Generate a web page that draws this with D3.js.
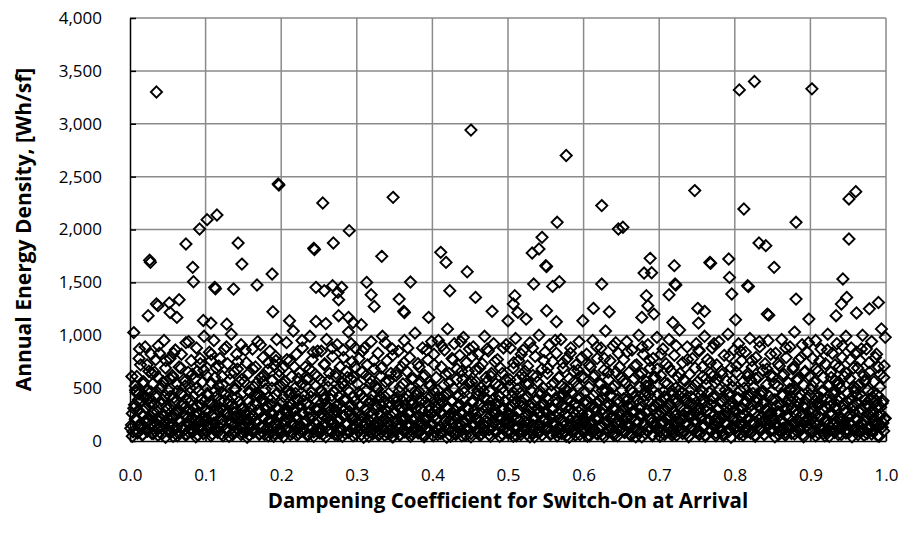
<!DOCTYPE html>
<html>
<head>
<meta charset="utf-8">
<script src="https://cdn.jsdelivr.net/npm/d3@7"></script>
<style>
  html, body { margin: 0; padding: 0; background: #fff; }
  svg { display: block; }
  text { font-family: "Open Sans", Lato, sans-serif; fill: #000; }
</style>
</head>
<body>
<svg id="chart" width="906" height="533"></svg>
<script>
// Annual energy density vs. dampening coefficient, one diamond per simulation run.
const xTicks = [0, 0.1, 0.2, 0.3, 0.4, 0.5, 0.6, 0.7, 0.8, 0.9, 1.0];
const yTicks = [0, 500, 1000, 1500, 2000, 2500, 3000, 3500, 4000];
const xTitle = "Dampening Coefficient for Switch-On at Arrival";
const yTitle = "Annual Energy Density, [Wh/sf]";

// Runs with high energy density (above ~1,100 Wh/sf)
const highRuns = [[0.035,3300],[0.451,2940],[0.577,2700],[0.806,3320],[0.826,3400],[0.902,3330],
[0.026,1710],[0.027,1690],[0.035,1295],[0.037,1280],[0.052,1305],[0.065,1336],[0.024,1185],[0.053,1215],[0.062,1169],[0.074,1863],[0.083,1642],[0.084,1506],[0.092,2005],[0.102,2093],[0.115,2137],[0.112,1453],[0.113,1440],[0.137,1437],[0.143,1872],[0.148,1673],[0.168,1475],[0.188,1579],[0.189,1222],[0.196,2431],[0.197,2420],[0.211,1137],[0.243,1822],[0.244,1810],[0.246,1453],[0.255,2251],[0.257,1421],[0.269,1872],[0.268,1469],[0.275,1405],[0.276,1336],[0.280,1453],[0.290,1989],[0.276,1185],[0.289,1169],[0.313,1500],[0.319,1383],[0.323,1273],[0.333,1746],[0.348,2304],[0.356,1342],[0.362,1226],[0.363,1215],[0.371,1503],[0.395,1169],[0.411,1784],[0.418,1689],[0.423,1421],[0.446,1600],[0.457,1358],[0.246,1130],[0.259,1110],[0.306,1100],[0.097,1140],[0.107,1115],[0.128,1105],[0.295,1120],
[0.479,1226],[0.509,1374],[0.507,1295],[0.513,1216],[0.524,1153],[0.500,1137],[0.534,1484],[0.532,1778],[0.541,1816],[0.545,1926],[0.550,1658],[0.551,1650],[0.565,2068],[0.559,1462],[0.568,1506],[0.551,1232],[0.564,1128],[0.599,1137],[0.613,1254],[0.634,1222],[0.624,1484],[0.624,2226],[0.646,2005],[0.652,2021],[0.680,1588],[0.688,1727],[0.690,1591],[0.683,1374],[0.685,1279],[0.693,1200],[0.677,1169],[0.720,1658],[0.721,1484],[0.722,1475],[0.713,1383],[0.718,1120],[0.747,2368],[0.751,1254],[0.760,1226],[0.752,1115],[0.767,1689],[0.768,1680],[0.792,1721],[0.793,1547],[0.796,1390],[0.817,1469],[0.818,1460],[0.801,1147],[0.812,2194],[0.832,1872],[0.841,1847],[0.852,1642],[0.843,1200],[0.845,1190],[0.881,2068],[0.881,1342],[0.898,1153],[0.951,2289],[0.960,2358],[0.951,1910],[0.943,1532],[0.948,1358],[0.941,1295],[0.961,1210],[0.934,1185],[0.978,1250],[0.990,1310]];

// Bulk of the runs, grouped by coefficient range
const runs00 = [[0.002,152],[0.004,88],[0.005,1025],[0.006,342],[0.007,520],[0.008,215],[0.009,610],[0.010,75],[0.011,290],[0.012,445],[0.013,160],[0.014,720],[0.015,385],[0.016,58],[0.017,240],[0.018,560],[0.019,130],[0.020,890],[0.021,310],[0.022,475],[0.023,95],[0.024,205],[0.025,660],[0.026,405],[0.027,150],[0.028,820],[0.029,265],[0.030,540],[0.031,70],[0.032,350],[0.033,180],[0.034,770],[0.035,440],[0.036,112],[0.037,605],[0.038,225],[0.039,830],[0.040,140],[0.041,500],[0.042,65],[0.043,390],[0.044,250],[0.045,950],[0.046,170],[0.047,690],[0.048,330],[0.049,105],[0.003,260],[0.019,410],[0.027,355],[0.033,95],[0.041,210],[0.008,460],[0.014,120],[0.022,185],[0.036,280],[0.044,560],[0.012,780],[0.029,640],[0.047,430]];
const runs05 = [[0.050,210],[0.051,480],[0.052,95],[0.053,780],[0.054,330],[0.055,160],[0.056,620],[0.057,45],[0.058,410],[0.059,255],[0.060,860],[0.061,120],[0.062,540],[0.063,300],[0.064,75],[0.065,700],[0.066,190],[0.067,450],[0.068,820],[0.069,135],[0.070,360],[0.071,580],[0.072,240],[0.073,60],[0.074,930],[0.075,395],[0.076,170],[0.077,650],[0.078,285],[0.079,110],[0.080,500],[0.081,760],[0.082,220],[0.083,85],[0.084,425],[0.085,315],[0.086,590],[0.087,145],[0.088,880],[0.089,260],[0.090,55],[0.091,470],[0.092,195],[0.093,730],[0.094,340],[0.095,100],[0.096,560],[0.097,230],[0.098,990],[0.099,380],[0.053,140],[0.061,270],[0.069,330],[0.077,90],[0.085,200],[0.093,150],[0.057,600],[0.073,520],[0.089,660],[0.097,70]];
const runs10 = [[0.100,180],[0.101,620],[0.102,90],[0.103,430],[0.104,270],[0.105,840],[0.106,140],[0.107,360],[0.108,545],[0.109,65],[0.110,235],[0.111,950],[0.112,470],[0.113,125],[0.114,690],[0.115,300],[0.116,80],[0.117,520],[0.118,205],[0.119,780],[0.120,385],[0.121,155],[0.122,610],[0.123,50],[0.124,290],[0.125,870],[0.126,440],[0.127,115],[0.128,250],[0.129,730],[0.130,350],[0.131,95],[0.132,580],[0.133,190],[0.134,1010],[0.135,415],[0.136,60],[0.137,270],[0.138,650],[0.139,160],[0.140,490],[0.141,820],[0.142,225],[0.143,105],[0.144,370],[0.145,560],[0.146,140],[0.147,910],[0.148,310],[0.149,75],[0.103,150],[0.112,330],[0.121,460],[0.128,110],[0.135,230],[0.142,680],[0.107,760],[0.117,280],[0.131,380],[0.146,250]];
const runs15 = [[0.150,130],[0.151,560],[0.152,280],[0.153,85],[0.154,740],[0.155,390],[0.156,200],[0.157,640],[0.158,55],[0.159,460],[0.160,320],[0.161,150],[0.162,870],[0.163,240],[0.164,510],[0.165,100],[0.166,700],[0.167,350],[0.168,180],[0.169,940],[0.170,430],[0.171,70],[0.172,270],[0.173,600],[0.174,140],[0.175,380],[0.176,790],[0.177,215],[0.178,60],[0.179,490],[0.180,300],[0.181,120],[0.182,670],[0.183,410],[0.184,190],[0.185,850],[0.186,90],[0.187,340],[0.188,570],[0.189,250],[0.190,45],[0.191,720],[0.192,165],[0.193,440],[0.194,960],[0.195,310],[0.196,110],[0.197,620],[0.198,230],[0.199,525],[0.154,175],[0.163,95],[0.172,420],[0.181,330],[0.188,140],[0.197,80],[0.159,260],[0.176,560],[0.185,205],[0.193,760]];
const runs20 = [[0.200,240],[0.201,80],[0.202,690],[0.203,420],[0.204,150],[0.205,560],[0.206,310],[0.207,930],[0.208,100],[0.209,470],[0.210,205],[0.211,760],[0.212,60],[0.213,350],[0.214,610],[0.215,170],[0.216,1040],[0.217,280],[0.218,500],[0.219,125],[0.220,820],[0.221,390],[0.222,220],[0.223,70],[0.224,650],[0.225,330],[0.226,145],[0.227,540],[0.228,880],[0.229,260],[0.230,95],[0.231,430],[0.232,700],[0.233,185],[0.234,360],[0.235,50],[0.236,590],[0.237,270],[0.238,990],[0.239,140],[0.240,460],[0.241,770],[0.242,230],[0.243,85],[0.244,400],[0.245,630],[0.246,160],[0.247,300],[0.248,850],[0.249,115],[0.203,190],[0.211,320],[0.219,450],[0.226,90],[0.233,580],[0.241,120],[0.207,260],[0.217,160],[0.229,380],[0.246,520]];
const runs25 = [[0.250,300],[0.251,120],[0.252,580],[0.253,850],[0.254,210],[0.255,60],[0.256,440],[0.257,720],[0.258,160],[0.259,350],[0.260,960],[0.261,95],[0.262,510],[0.263,270],[0.264,640],[0.265,185],[0.266,390],[0.267,80],[0.268,800],[0.269,250],[0.270,470],[0.271,140],[0.272,610],[0.273,330],[0.274,910],[0.275,55],[0.276,420],[0.277,200],[0.278,700],[0.279,310],[0.280,105],[0.281,550],[0.282,860],[0.283,230],[0.284,380],[0.285,70],[0.286,660],[0.287,160],[0.288,480],[0.289,1030],[0.290,280],[0.291,90],[0.292,590],[0.293,340],[0.294,750],[0.295,130],[0.296,420],[0.297,220],[0.298,880],[0.299,65],[0.253,110],[0.261,330],[0.268,180],[0.276,90],[0.283,520],[0.291,250],[0.257,410],[0.271,290],[0.286,150],[0.296,600]];
const runs30 = [[0.300,180],[0.301,540],[0.302,95],[0.303,780],[0.304,330],[0.305,240],[0.306,60],[0.307,650],[0.308,410],[0.309,150],[0.310,880],[0.311,300],[0.312,110],[0.313,480],[0.314,720],[0.315,200],[0.316,45],[0.317,590],[0.318,360],[0.319,940],[0.320,130],[0.321,430],[0.322,260],[0.323,680],[0.324,85],[0.325,520],[0.326,310],[0.327,170],[0.328,830],[0.329,400],[0.330,70],[0.331,250],[0.332,610],[0.333,140],[0.334,990],[0.335,370],[0.336,210],[0.337,55],[0.338,560],[0.339,290],[0.340,760],[0.341,120],[0.342,450],[0.343,320],[0.344,100],[0.345,640],[0.346,230],[0.347,870],[0.348,40],[0.349,390],[0.304,120],[0.312,380],[0.319,90],[0.326,500],[0.333,330],[0.341,180],[0.308,230],[0.322,150],[0.337,420],[0.346,80]];
const runs35 = [[0.350,260],[0.351,90],[0.352,620],[0.353,380],[0.354,150],[0.355,850],[0.356,470],[0.357,55],[0.358,300],[0.359,700],[0.360,190],[0.361,540],[0.362,110],[0.363,950],[0.364,340],[0.365,220],[0.366,660],[0.367,75],[0.368,430],[0.369,270],[0.370,790],[0.371,140],[0.372,500],[0.373,60],[0.374,360],[0.375,590],[0.376,200],[0.377,1020],[0.378,310],[0.379,120],[0.380,450],[0.381,730],[0.382,240],[0.383,85],[0.384,560],[0.385,390],[0.386,160],[0.387,880],[0.388,280],[0.389,40],[0.390,620],[0.391,210],[0.392,410],[0.393,130],[0.394,770],[0.395,330],[0.396,95],[0.397,520],[0.398,250],[0.399,940],[0.354,340],[0.361,230],[0.368,130],[0.374,90],[0.382,470],[0.389,200],[0.358,150],[0.371,380],[0.386,60],[0.396,290]];
const runs40 = [[0.400,150],[0.401,480],[0.402,820],[0.403,90],[0.404,330],[0.405,600],[0.406,210],[0.407,60],[0.408,950],[0.409,410],[0.410,270],[0.411,130],[0.412,700],[0.413,360],[0.414,80],[0.415,530],[0.416,860],[0.417,190],[0.418,440],[0.419,310],[0.420,1060],[0.421,110],[0.422,640],[0.423,250],[0.424,45],[0.425,380],[0.426,780],[0.427,170],[0.428,500],[0.429,920],[0.430,290],[0.431,70],[0.432,580],[0.433,230],[0.434,420],[0.435,140],[0.436,810],[0.437,340],[0.438,95],[0.439,660],[0.440,260],[0.441,980],[0.442,460],[0.443,180],[0.444,55],[0.445,740],[0.446,320],[0.447,120],[0.448,550],[0.449,870],[0.403,240],[0.411,390],[0.418,120],[0.425,210],[0.433,90],[0.440,580],[0.407,300],[0.421,450],[0.436,160],[0.446,200]];
const runs45 = [[0.450,230],[0.451,70],[0.452,560],[0.453,380],[0.454,890],[0.455,140],[0.456,300],[0.457,670],[0.458,95],[0.459,450],[0.460,200],[0.461,820],[0.462,340],[0.463,55],[0.464,510],[0.465,260],[0.466,730],[0.467,160],[0.468,410],[0.469,990],[0.470,100],[0.471,600],[0.472,320],[0.473,180],[0.474,850],[0.475,60],[0.476,470],[0.477,240],[0.478,640],[0.479,130],[0.480,390],[0.481,920],[0.482,280],[0.483,85],[0.484,540],[0.485,350],[0.486,770],[0.487,150],[0.488,430],[0.489,45],[0.490,690],[0.491,220],[0.492,500],[0.493,310],[0.494,880],[0.495,120],[0.496,370],[0.497,580],[0.498,200],[0.499,80],[0.453,150],[0.460,480],[0.468,90],[0.476,330],[0.483,250],[0.491,140],[0.457,210],[0.472,560],[0.487,380],[0.496,170]];
const runs50 = [[0.500,160],[0.501,520],[0.502,300],[0.503,880],[0.504,75],[0.505,420],[0.506,230],[0.507,690],[0.508,120],[0.509,360],[0.510,970],[0.511,50],[0.512,580],[0.513,270],[0.514,760],[0.515,190],[0.516,450],[0.517,90],[0.518,630],[0.519,330],[0.520,860],[0.521,140],[0.522,400],[0.523,240],[0.524,540],[0.525,65],[0.526,710],[0.527,290],[0.528,170],[0.529,930],[0.530,480],[0.531,100],[0.532,350],[0.533,620],[0.534,210],[0.535,40],[0.536,800],[0.537,390],[0.538,150],[0.539,560],[0.540,260],[0.541,1000],[0.542,85],[0.543,440],[0.544,320],[0.545,680],[0.546,130],[0.547,500],[0.548,210],[0.549,840],[0.503,250],[0.510,140],[0.517,380],[0.524,180],[0.532,80],[0.539,310],[0.507,460],[0.521,600],[0.536,220],[0.546,360]];
const runs55 = [[0.550,280],[0.551,110],[0.552,640],[0.553,390],[0.554,190],[0.555,910],[0.556,60],[0.557,470],[0.558,300],[0.559,750],[0.560,150],[0.561,550],[0.562,240],[0.563,85],[0.564,830],[0.565,360],[0.566,120],[0.567,600],[0.568,420],[0.569,210],[0.570,960],[0.571,70],[0.572,330],[0.573,690],[0.574,170],[0.575,500],[0.576,260],[0.577,45],[0.578,780],[0.579,400],[0.580,130],[0.581,590],[0.582,310],[0.583,880],[0.584,95],[0.585,450],[0.586,220],[0.587,660],[0.588,340],[0.589,55],[0.590,720],[0.591,180],[0.592,520],[0.593,280],[0.594,940],[0.595,140],[0.596,410],[0.597,610],[0.598,250],[0.599,100],[0.553,130],[0.560,300],[0.567,80],[0.574,440],[0.582,190],[0.589,350],[0.557,230],[0.571,520],[0.586,100],[0.596,180]];
const runs60 = [[0.600,200],[0.601,600],[0.602,90],[0.603,380],[0.604,820],[0.605,260],[0.606,140],[0.607,510],[0.608,50],[0.609,700],[0.610,330],[0.611,180],[0.612,950],[0.613,430],[0.614,110],[0.615,620],[0.616,290],[0.617,70],[0.618,780],[0.619,360],[0.620,210],[0.621,540],[0.622,130],[0.623,880],[0.624,410],[0.625,60],[0.626,300],[0.627,670],[0.628,160],[0.629,1040],[0.630,470],[0.631,240],[0.632,90],[0.633,580],[0.634,340],[0.635,760],[0.636,120],[0.637,430],[0.638,220],[0.639,900],[0.640,55],[0.641,520],[0.642,310],[0.643,650],[0.644,170],[0.645,390],[0.646,830],[0.647,100],[0.648,270],[0.649,600],[0.603,150],[0.610,90],[0.618,230],[0.625,480],[0.633,190],[0.640,320],[0.607,270],[0.621,380],[0.637,130],[0.646,200]];
const runs65 = [[0.650,170],[0.651,480],[0.652,300],[0.653,770],[0.654,80],[0.655,550],[0.656,230],[0.657,940],[0.658,140],[0.659,400],[0.660,650],[0.661,60],[0.662,350],[0.663,210],[0.664,860],[0.665,460],[0.666,120],[0.667,590],[0.668,280],[0.669,40],[0.670,720],[0.671,380],[0.672,180],[0.673,1000],[0.674,510],[0.675,90],[0.676,320],[0.677,640],[0.678,240],[0.679,820],[0.680,150],[0.681,430],[0.682,70],[0.683,560],[0.684,290],[0.685,910],[0.686,130],[0.687,370],[0.688,690],[0.689,210],[0.690,490],[0.691,50],[0.692,780],[0.693,330],[0.694,160],[0.695,600],[0.696,260],[0.697,980],[0.698,100],[0.699,440],[0.653,200],[0.660,320],[0.668,110],[0.675,250],[0.682,470],[0.690,170],[0.657,380],[0.671,90],[0.686,520],[0.696,140]];
const runs70 = [[0.700,250],[0.701,90],[0.702,620],[0.703,380],[0.704,160],[0.705,870],[0.706,470],[0.707,60],[0.708,300],[0.709,730],[0.710,200],[0.711,540],[0.712,120],[0.713,960],[0.714,350],[0.715,230],[0.716,660],[0.717,80],[0.718,440],[0.719,280],[0.720,810],[0.721,140],[0.722,500],[0.723,55],[0.724,370],[0.725,600],[0.726,190],[0.727,1050],[0.728,320],[0.729,110],[0.730,460],[0.731,740],[0.732,250],[0.733,90],[0.734,570],[0.735,400],[0.736,170],[0.737,890],[0.738,290],[0.739,45],[0.740,630],[0.741,220],[0.742,420],[0.743,130],[0.744,780],[0.745,340],[0.746,100],[0.747,530],[0.748,260],[0.749,920],[0.703,170],[0.711,310],[0.718,110],[0.726,480],[0.733,220],[0.741,360],[0.707,420],[0.721,240],[0.736,70],[0.746,190]];
const runs75 = [[0.750,180],[0.751,560],[0.752,310],[0.753,850],[0.754,70],[0.755,430],[0.756,240],[0.757,700],[0.758,130],[0.759,380],[0.760,990],[0.761,55],[0.762,590],[0.763,280],[0.764,770],[0.765,200],[0.766,460],[0.767,100],[0.768,640],[0.769,340],[0.770,880],[0.771,150],[0.772,410],[0.773,250],[0.774,550],[0.775,75],[0.776,720],[0.777,300],[0.778,180],[0.779,940],[0.780,490],[0.781,110],[0.782,360],[0.783,630],[0.784,220],[0.785,50],[0.786,810],[0.787,400],[0.788,160],[0.789,570],[0.790,270],[0.791,1010],[0.792,90],[0.793,450],[0.794,330],[0.795,690],[0.796,140],[0.797,510],[0.798,220],[0.799,860],[0.753,260],[0.760,150],[0.767,390],[0.774,190],[0.782,85],[0.789,320],[0.757,470],[0.771,610],[0.786,230],[0.796,370]];
const runs80 = [[0.800,290],[0.801,120],[0.802,650],[0.803,400],[0.804,200],[0.805,920],[0.806,65],[0.807,480],[0.808,310],[0.809,760],[0.810,160],[0.811,560],[0.812,250],[0.813,90],[0.814,840],[0.815,370],[0.816,130],[0.817,610],[0.818,430],[0.819,220],[0.820,970],[0.821,80],[0.822,340],[0.823,700],[0.824,180],[0.825,510],[0.826,270],[0.827,55],[0.828,790],[0.829,410],[0.830,140],[0.831,600],[0.832,320],[0.833,890],[0.834,100],[0.835,460],[0.836,230],[0.837,670],[0.838,350],[0.839,60],[0.840,730],[0.841,190],[0.842,530],[0.843,290],[0.844,950],[0.845,150],[0.846,420],[0.847,620],[0.848,260],[0.849,110],[0.803,140],[0.810,310],[0.817,90],[0.824,450],[0.832,200],[0.839,370],[0.807,240],[0.821,580],[0.836,110],[0.846,190]];
const runs85 = [[0.850,210],[0.851,610],[0.852,100],[0.853,390],[0.854,830],[0.855,270],[0.856,150],[0.857,520],[0.858,60],[0.859,710],[0.860,340],[0.861,190],[0.862,960],[0.863,440],[0.864,120],[0.865,630],[0.866,300],[0.867,80],[0.868,790],[0.869,370],[0.870,220],[0.871,550],[0.872,140],[0.873,890],[0.874,420],[0.875,70],[0.876,310],[0.877,680],[0.878,170],[0.879,1030],[0.880,480],[0.881,250],[0.882,95],[0.883,590],[0.884,350],[0.885,770],[0.886,130],[0.887,440],[0.888,230],[0.889,910],[0.890,60],[0.891,530],[0.892,320],[0.893,660],[0.894,180],[0.895,400],[0.896,840],[0.897,110],[0.898,280],[0.899,610],[0.853,160],[0.860,100],[0.868,240],[0.875,490],[0.883,200],[0.890,330],[0.857,280],[0.871,390],[0.887,140],[0.896,210]];
const runs90 = [[0.900,160],[0.901,490],[0.902,310],[0.903,780],[0.904,90],[0.905,560],[0.906,240],[0.907,950],[0.908,150],[0.909,410],[0.910,660],[0.911,70],[0.912,360],[0.913,220],[0.914,870],[0.915,470],[0.916,130],[0.917,600],[0.918,290],[0.919,50],[0.920,730],[0.921,390],[0.922,190],[0.923,1010],[0.924,520],[0.925,100],[0.926,330],[0.927,650],[0.928,250],[0.929,830],[0.930,160],[0.931,440],[0.932,80],[0.933,570],[0.934,300],[0.935,920],[0.936,140],[0.937,380],[0.938,700],[0.939,220],[0.940,500],[0.941,60],[0.942,790],[0.943,340],[0.944,170],[0.945,610],[0.946,270],[0.947,990],[0.948,110],[0.949,450],[0.903,210],[0.910,330],[0.918,120],[0.925,260],[0.932,480],[0.940,180],[0.907,380],[0.921,90],[0.936,530],[0.946,150]];
const runs95 = [[0.950,230],[0.951,80],[0.952,590],[0.953,400],[0.954,880],[0.955,150],[0.956,320],[0.957,690],[0.958,100],[0.959,470],[0.960,210],[0.961,840],[0.962,350],[0.963,60],[0.964,530],[0.965,270],[0.966,760],[0.967,170],[0.968,420],[0.969,1000],[0.970,110],[0.971,620],[0.972,330],[0.973,190],[0.974,870],[0.975,70],[0.976,480],[0.977,250],[0.978,650],[0.979,140],[0.980,400],[0.981,940],[0.982,290],[0.983,90],[0.984,560],[0.985,360],[0.986,790],[0.987,160],[0.988,440],[0.989,50],[0.990,700],[0.991,230],[0.992,510],[0.993,320],[0.994,1060],[0.995,130],[0.996,380],[0.997,600],[0.998,210],[0.999,980],[0.953,160],[0.960,500],[0.968,100],[0.976,330],[0.983,250],[0.991,140],[0.957,280],[0.972,560],[0.987,380],[0.996,170]];

// Low-energy runs (below ~450 Wh/sf), by quarter of the coefficient range
const lowRunsA = [[0.001,120],[0.003,45],[0.005,310],[0.007,205],[0.009,80],[0.011,390],[0.013,150],[0.015,260],[0.017,60],[0.019,430],[0.021,175],[0.023,95],[0.025,340],[0.027,230],[0.029,70],[0.031,280],[0.033,140],[0.035,410],[0.037,55],[0.039,190],[0.041,350],[0.043,110],[0.045,240],[0.047,35],[0.049,300],[0.051,165],[0.053,420],[0.055,85],[0.057,215],[0.059,370],[0.061,130],[0.063,50],[0.065,275],[0.067,190],[0.069,440],[0.071,100],[0.073,320],[0.075,60],[0.077,225],[0.079,155],[0.081,380],[0.083,90],[0.085,250],[0.087,40],[0.089,330],[0.091,180],[0.093,115],[0.095,400],[0.097,70],[0.099,290],[0.101,210],[0.103,135],[0.105,360],[0.107,50],[0.109,245],[0.111,170],[0.113,95],[0.115,425],[0.117,140],[0.119,310],[0.121,65],[0.123,200],[0.125,380],[0.127,120],[0.129,270],[0.131,45],[0.133,160],[0.135,345],[0.137,85],[0.139,230],[0.141,415],[0.143,105],[0.145,190],[0.147,60],[0.149,300],[0.151,150],[0.153,255],[0.155,35],[0.157,370],[0.159,125],[0.161,210],[0.163,80],[0.165,440],[0.167,175],[0.169,290],[0.171,60],[0.173,135],[0.175,395],[0.177,220],[0.179,100],[0.181,330],[0.183,50],[0.185,265],[0.187,185],[0.189,410],[0.191,70],[0.193,150],[0.195,320],[0.197,240],[0.199,90],[0.201,360],[0.203,40],[0.205,200],[0.207,280],[0.209,115],[0.211,435],[0.213,160],[0.215,75],[0.217,305],[0.219,230],[0.221,55],[0.223,390],[0.225,140],[0.227,260],[0.229,95],[0.231,180],[0.233,350],[0.235,65],[0.237,220],[0.239,420],[0.241,130],[0.243,45],[0.245,300],[0.247,195],[0.249,85]];
const lowRunsB = [[0.251,75],[0.253,260],[0.255,145],[0.257,390],[0.259,40],[0.261,220],[0.263,310],[0.265,100],[0.267,430],[0.269,170],[0.271,60],[0.273,285],[0.275,195],[0.277,350],[0.279,120],[0.281,45],[0.283,240],[0.285,405],[0.287,155],[0.289,80],[0.291,330],[0.293,215],[0.295,50],[0.297,375],[0.299,130],[0.301,270],[0.303,90],[0.305,440],[0.307,180],[0.309,35],[0.311,300],[0.313,160],[0.315,255],[0.317,110],[0.319,385],[0.321,65],[0.323,210],[0.325,340],[0.327,140],[0.329,55],[0.331,420],[0.333,190],[0.335,100],[0.337,295],[0.339,230],[0.341,70],[0.343,365],[0.345,150],[0.347,40],[0.349,275],[0.351,185],[0.353,410],[0.355,120],[0.357,60],[0.359,320],[0.361,205],[0.363,85],[0.365,395],[0.367,160],[0.369,250],[0.371,45],[0.373,340],[0.375,110],[0.377,225],[0.379,430],[0.381,75],[0.383,180],[0.385,300],[0.387,135],[0.389,55],[0.391,370],[0.393,240],[0.395,95],[0.397,415],[0.399,165],[0.401,50],[0.403,285],[0.405,200],[0.407,120],[0.409,350],[0.411,70],[0.413,260],[0.415,425],[0.417,145],[0.419,35],[0.421,310],[0.423,190],[0.425,90],[0.427,380],[0.429,235],[0.431,60],[0.433,330],[0.435,125],[0.437,270],[0.439,50],[0.441,400],[0.443,175],[0.445,100],[0.447,295],[0.449,215],[0.451,40],[0.453,360],[0.455,150],[0.457,250],[0.459,80],[0.461,435],[0.463,185],[0.465,65],[0.467,320],[0.469,140],[0.471,230],[0.473,390],[0.475,105],[0.477,45],[0.479,275],[0.481,170],[0.483,345],[0.485,90],[0.487,210],[0.489,420],[0.491,130],[0.493,60],[0.495,305],[0.497,195],[0.499,255]];
const lowRunsC = [[0.501,95],[0.503,330],[0.505,170],[0.507,45],[0.509,400],[0.511,220],[0.513,130],[0.515,285],[0.517,60],[0.519,360],[0.521,185],[0.523,105],[0.525,425],[0.527,250],[0.529,40],[0.531,310],[0.533,150],[0.535,205],[0.537,380],[0.539,85],[0.541,270],[0.543,140],[0.545,55],[0.547,345],[0.549,195],[0.551,415],[0.553,115],[0.555,235],[0.557,70],[0.559,300],[0.561,160],[0.563,390],[0.565,50],[0.567,260],[0.569,125],[0.571,440],[0.573,190],[0.575,80],[0.577,320],[0.579,230],[0.581,35],[0.583,370],[0.585,145],[0.587,275],[0.589,100],[0.591,410],[0.593,210],[0.595,60],[0.597,295],[0.599,175],[0.601,120],[0.603,350],[0.605,45],[0.607,240],[0.609,405],[0.611,155],[0.613,90],[0.615,315],[0.617,200],[0.619,65],[0.621,385],[0.623,135],[0.625,255],[0.627,40],[0.629,340],[0.631,180],[0.633,110],[0.635,430],[0.637,225],[0.639,75],[0.641,290],[0.643,160],[0.645,50],[0.647,365],[0.649,245],[0.651,130],[0.653,400],[0.655,85],[0.657,210],[0.659,330],[0.661,145],[0.663,55],[0.665,280],[0.667,420],[0.669,190],[0.671,100],[0.673,310],[0.675,235],[0.677,40],[0.679,375],[0.681,165],[0.683,260],[0.685,95],[0.687,440],[0.689,205],[0.691,60],[0.693,300],[0.695,150],[0.697,355],[0.699,115],[0.701,45],[0.703,270],[0.705,190],[0.707,410],[0.709,80],[0.711,230],[0.713,335],[0.715,135],[0.717,55],[0.719,390],[0.721,175],[0.723,250],[0.725,100],[0.727,425],[0.729,200],[0.731,70],[0.733,295],[0.735,155],[0.737,360],[0.739,40],[0.741,240],[0.743,120],[0.745,405],[0.747,185],[0.749,85]];
const lowRunsD = [[0.751,290],[0.753,60],[0.755,210],[0.757,395],[0.759,140],[0.761,45],[0.763,330],[0.765,180],[0.767,260],[0.769,95],[0.771,420],[0.773,155],[0.775,50],[0.777,305],[0.779,225],[0.781,120],[0.783,380],[0.785,70],[0.787,245],[0.789,165],[0.791,440],[0.793,100],[0.795,35],[0.797,320],[0.799,195],[0.801,275],[0.803,85],[0.805,405],[0.807,150],[0.809,230],[0.811,55],[0.813,350],[0.815,125],[0.817,200],[0.819,415],[0.821,75],[0.823,285],[0.825,170],[0.827,45],[0.829,365],[0.831,240],[0.833,110],[0.835,430],[0.837,185],[0.839,60],[0.841,300],[0.843,145],[0.845,255],[0.847,90],[0.849,390],[0.851,205],[0.853,40],[0.855,335],[0.857,130],[0.859,270],[0.861,80],[0.863,425],[0.865,175],[0.867,55],[0.869,310],[0.871,220],[0.873,115],[0.875,375],[0.877,160],[0.879,65],[0.881,290],[0.883,195],[0.885,410],[0.887,100],[0.889,250],[0.891,40],[0.893,345],[0.895,140],[0.897,215],[0.899,435],[0.901,85],[0.903,280],[0.905,170],[0.907,50],[0.909,360],[0.911,235],[0.913,125],[0.915,400],[0.917,70],[0.919,190],[0.921,315],[0.923,150],[0.925,45],[0.927,385],[0.929,260],[0.931,100],[0.933,325],[0.935,180],[0.937,60],[0.939,420],[0.941,210],[0.943,135],[0.945,295],[0.947,75],[0.949,370],[0.951,165],[0.953,245],[0.955,40],[0.957,340],[0.959,120],[0.961,430],[0.963,200],[0.965,90],[0.967,305],[0.969,155],[0.971,55],[0.973,390],[0.975,230],[0.977,110],[0.979,275],[0.981,65],[0.983,410],[0.985,185],[0.987,140],[0.989,320],[0.991,45],[0.993,255],[0.995,360],[0.997,95],[0.999,215]];

// Mid-range runs (roughly 450-950 Wh/sf)
const midRuns = [[0.0025,610],[0.0075,480],[0.0125,870],[0.0175,540],[0.0225,720],[0.0275,465],[0.0325,650],[0.0375,900],[0.0425,520],[0.0475,760],
[0.0525,590],[0.0575,830],[0.0625,470],[0.0675,690],[0.0725,560],[0.0775,940],[0.0825,630],[0.0875,500],[0.0925,780],[0.0975,670],
[0.1025,450],[0.1075,820],[0.1125,600],[0.1175,710],[0.1225,530],[0.1275,890],[0.1325,640],[0.1375,490],[0.1425,750],[0.1475,580],
[0.1525,860],[0.1575,470],[0.1625,680],[0.1675,550],[0.1725,910],[0.1775,620],[0.1825,740],[0.1875,500],[0.1925,800],[0.1975,660],
[0.2025,540],[0.2075,770],[0.2125,460],[0.2175,700],[0.2225,590],[0.2275,950],[0.2325,520],[0.2375,680],[0.2425,840],[0.2475,610],
[0.2525,480],[0.2575,730],[0.2625,570],[0.2675,880],[0.2725,640],[0.2775,510],[0.2825,790],[0.2875,600],[0.2925,920],[0.2975,700],
[0.3025,460],[0.3075,850],[0.3125,620],[0.3175,540],[0.3225,760],[0.3275,490],[0.3325,690],[0.3375,930],[0.3425,570],[0.3475,810],
[0.3525,650],[0.3575,510],[0.3625,740],[0.3675,880],[0.3725,590],[0.3775,470],[0.3825,700],[0.3875,610],[0.3925,860],[0.3975,530],
[0.4025,720],[0.4075,480],[0.4125,900],[0.4175,630],[0.4225,550],[0.4275,770],[0.4325,680],[0.4375,940],[0.4425,500],[0.4475,660],
[0.4525,800],[0.4575,560],[0.4625,690],[0.4675,470],[0.4725,870],[0.4775,610],[0.4825,750],[0.4875,520],[0.4925,640],[0.4975,910],
[0.5025,580],[0.5075,740],[0.5125,490],[0.5175,820],[0.5225,660],[0.5275,540],[0.5325,880],[0.5375,610],[0.5425,470],[0.5475,760],
[0.5525,690],[0.5575,530],[0.5625,950],[0.5675,600],[0.5725,740],[0.5775,480],[0.5825,830],[0.5875,560],[0.5925,670],[0.5975,790],
[0.6025,460],[0.6075,720],[0.6125,610],[0.6175,890],[0.6225,540],[0.6275,780],[0.6325,650],[0.6375,500],[0.6425,930],[0.6475,700],
[0.6525,570],[0.6575,840],[0.6625,480],[0.6675,710],[0.6725,630],[0.6775,890],[0.6825,520],[0.6875,760],[0.6925,600],[0.6975,680],
[0.7025,820],[0.7075,550],[0.7125,700],[0.7175,470],[0.7225,900],[0.7275,640],[0.7325,580],[0.7375,770],[0.7425,490],[0.7475,690],
[0.7525,860],[0.7575,610],[0.7625,530],[0.7675,740],[0.7725,920],[0.7775,580],[0.7825,660],[0.7875,480],[0.7925,800],[0.7975,570],
[0.8025,710],[0.8075,850],[0.8125,500],[0.8175,640],[0.8225,760],[0.8275,590],[0.8325,940],[0.8375,470],[0.8425,680],[0.8475,820],
[0.8525,540],[0.8575,730],[0.8625,620],[0.8675,880],[0.8725,490],[0.8775,700],[0.8825,570],[0.8875,790],[0.8925,650],[0.8975,930],
[0.9025,520],[0.9075,680],[0.9125,760],[0.9175,480],[0.9225,860],[0.9275,600],[0.9325,720],[0.9375,540],[0.9425,900],[0.9475,640],
[0.9525,770],[0.9575,510],[0.9625,690],[0.9675,870],[0.9725,580],[0.9775,740],[0.9825,460],[0.9875,820],[0.9925,630],[0.9975,710]];

const runs = [].concat(runs00, runs05, runs10, runs15, runs20, runs25, runs30, runs35, runs40,
  runs45, runs50, runs55, runs60, runs65, runs70, runs75, runs80, runs85, runs90, runs95,
  lowRunsA, lowRunsB, lowRunsC, lowRunsD, midRuns, highRuns);

const width = 906, height = 533;
const margin = { top: 18, right: 20, bottom: 92, left: 130 };

const svg = d3.select("#chart");

const x = d3.scaleLinear().domain([0, 1]).range([margin.left, width - margin.right]);
const y = d3.scaleLinear().domain([0, 4000]).range([height - margin.bottom, margin.top]);

// Gridlines
const grid = svg.append("g").attr("class", "grid");
grid.selectAll("line.h").data(yTicks.filter(d => d > 0)).join("line")
  .attr("class", "h")
  .attr("x1", x(0)).attr("x2", x(1))
  .attr("y1", d => y(d)).attr("y2", d => y(d))
  .attr("stroke", "#8a8a8a").attr("stroke-width", 1.5);
grid.selectAll("line.v").data(xTicks.filter(d => d > 0)).join("line")
  .attr("class", "v")
  .attr("x1", d => x(d)).attr("x2", d => x(d))
  .attr("y1", y(0)).attr("y2", y(4000))
  .attr("stroke", "#8a8a8a").attr("stroke-width", 1.5);

// Hollow diamond markers
const diamond = d3.symbol().type(d3.symbolDiamond2).size(80);
svg.append("g").attr("class", "runs")
  .selectAll("path").data(runs).join("path")
  .attr("d", diamond)
  .attr("transform", d => `translate(${x(d[0])},${y(d[1])})`)
  .attr("fill", "none")
  .attr("stroke", "#000")
  .attr("stroke-width", 1.9);

// Axes
const yAxis = d3.axisLeft(y).tickValues(yTicks).tickFormat(d3.format(",")).tickSizeInner(-6).tickSizeOuter(0).tickPadding(28);
const xAxis = d3.axisBottom(x).tickValues(xTicks).tickFormat(d3.format(".1f")).tickSizeInner(-6).tickSizeOuter(0).tickPadding(28);

const gy = svg.append("g").attr("transform", `translate(${x(0)},0)`).call(yAxis);
const gx = svg.append("g").attr("transform", `translate(0,${y(0)})`).call(xAxis);
[gx, gy].forEach(g => {
  g.select(".domain").attr("stroke", "#000").attr("stroke-width", 1.5);
  g.selectAll(".tick line").attr("stroke", "#000").attr("stroke-width", 1.5);
  g.selectAll(".tick text").attr("font-size", 17).attr("font-family", "'Open Sans', sans-serif").attr("fill", "#000");
});

// Axis titles
svg.append("text")
  .attr("x", (x(0) + x(1)) / 2).attr("y", 508)
  .attr("text-anchor", "middle").attr("font-size", 20.5).attr("font-weight", "bold")
  .text(xTitle);
svg.append("text")
  .attr("transform", `translate(31,${(y(0) + y(4000)) / 2}) rotate(-90)`)
  .attr("text-anchor", "middle").attr("font-size", 21).attr("font-weight", "bold")
  .text(yTitle);
</script>
</body>
</html>
